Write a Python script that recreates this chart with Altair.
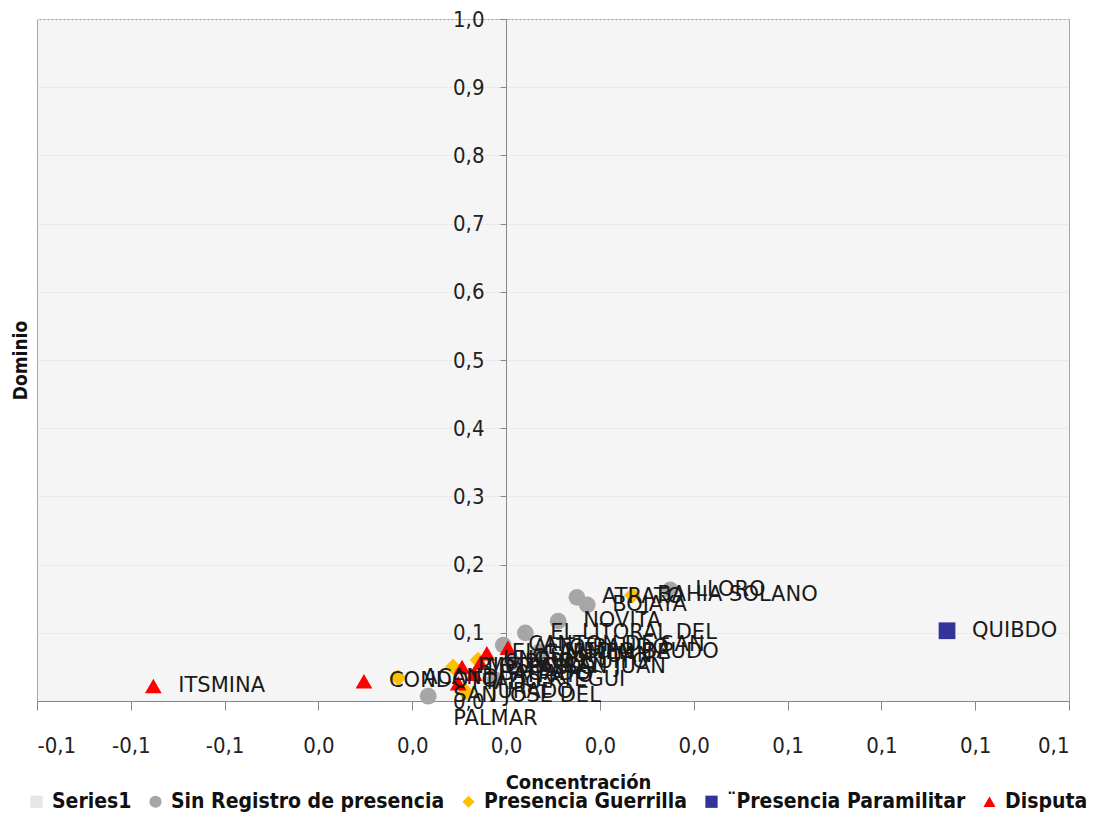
import altair as alt
import pandas as pd

# ---- data ----
series_order = ["Series1", "Sin Registro de presencia", "Presencia Guerrilla",
                "¨Presencia Paramilitar", "Disputa"]
series_colors = ["#e6e6e6", "#a6a6a6", "#ffc000", "#333399", "#ff0000"]
series_shapes = ["square", "circle", "diamond", "square", "triangle-up"]

sin_names = ["LLORO", "ATRATO", "BOJAYA", "NOVITA", "EL LITORAL DEL\nSAN JUAN",
             "CANTON DE SAN\nPABLO", "RIO QUITO", "MEDIO BAUDO", "CERTEGUI",
             "SAN JOSE DEL\nPALMAR"]
sin_x = [0.0350, 0.0151, 0.0173, 0.0111, 0.0041, -0.0006, 0.0013, 0.0072, -0.0023, -0.0166]
sin_y = [0.163, 0.152, 0.141, 0.117, 0.100, 0.082, 0.057, 0.072, 0.031, 0.007]

gue_names = ["BAHIA SOLANO", "JURADO", "ACANDI", "RIOSUCIO", "UNGUIA"]
gue_x = [0.0269, -0.0085, -0.0230, -0.0113, -0.0060]
gue_y = [0.155, 0.013, 0.034, 0.050, 0.060]

par_names = ["QUIBDO"]
par_x = [0.0940]
par_y = [0.103]

dis_names = ["ITSMINA", "CONDOTO", "MEDIO SAN JUAN", "TADO", "SIPI",
             "EL CARMEN DE\nATRATO", "ALTO BAUDO", "BAGADO"]
dis_x = [-0.0752, -0.0303, -0.0094, -0.0102, -0.0055, -0.0041, 0.0004, -0.0068]
dis_y = [0.022, 0.029, 0.050, 0.026, 0.056, 0.070, 0.078, 0.040]

x_ticks = [-0.10, -0.08, -0.06, -0.04, -0.02, 0.0, 0.02, 0.04, 0.06, 0.08, 0.10, 0.12]
x_tick_labels = ["-0,1", "-0,1", "-0,1", "0,0", "0,0", "0,0", "0,0", "0,0",
                 "0,1", "0,1", "0,1", "0,1"]
y_ticks = [0.0, 0.1, 0.2, 0.3, 0.4, 0.5, 0.6, 0.7, 0.8, 0.9, 1.0]
y_tick_labels = ["0,0", "0,1", "0,2", "0,3", "0,4", "0,5", "0,6", "0,7", "0,8", "0,9", "1,0"]

rows = []
for cat, names, xs, ys in [
    ("Sin Registro de presencia", sin_names, sin_x, sin_y),
    ("Presencia Guerrilla", gue_names, gue_x, gue_y),
    ("¨Presencia Paramilitar", par_names, par_x, par_y),
    ("Disputa", dis_names, dis_x, dis_y),
]:
    for n, xv, yv in zip(names, xs, ys):
        rows.append({"serie": cat, "nombre": n, "conc": xv, "dom": yv})
df = pd.DataFrame(rows)

x_label_expr = "[" + ",".join("'%s'" % s for s in x_tick_labels) + "][round(datum.value*50)+5]"
y_label_expr = "[" + ",".join("'%s'" % s for s in y_tick_labels) + "][round(datum.value*10)]"

cond = "DejaVu Sans Condensed, Liberation Sans Narrow, sans-serif"

x_enc = alt.X("conc:Q",
              scale=alt.Scale(domain=[-0.1, 0.12], nice=False, zero=False),
              axis=alt.Axis(values=x_ticks, labelExpr=x_label_expr, title="Concentración",
                            grid=False, domainColor="#868686", tickColor="#868686",
                            tickSize=9, labelPadding=35, labelBaseline="middle",
                            labelFont=cond, labelFontSize=22, labelColor="#222222",
                            titleFont=cond, titleFontSize=20, titleFontWeight="bold",
                            titleColor="#111111", titleX=541, titleY=81,
                            titleBaseline="middle", titleAlign="center"))
y_enc = alt.Y("dom:Q",
              scale=alt.Scale(domain=[0, 1], nice=False),
              axis=alt.Axis(values=y_ticks, labelExpr=y_label_expr, title="Dominio",
                            offset=-469, grid=True, gridColor="#dedede", gridDash=[2, 2],
                            domainColor="#868686", tickColor="#868686", tickSize=6,
                            labelPadding=16, labelFont=cond, labelFontSize=22,
                            labelColor="#222222",
                            titleFont=cond, titleFontSize=19, titleFontWeight="bold",
                            titleColor="#111111", titleX=-486, titleY=341,
                            titleAngle=270, titleAlign="center", titleBaseline="middle"))

legend = alt.Legend(title=None, orient="none", direction="horizontal", columns=5,
                    legendX=-11, legendY=772, labelFont=cond, labelFontSize=21,
                    labelFontWeight="bold", labelColor="#111111", symbolSize=150,
                    symbolStrokeWidth=0, columnPadding=13, labelOffset=5,
                    labelLimit=400, symbolType="circle")

points = alt.Chart(df).mark_point(filled=True, size=280, opacity=1).encode(
    x=x_enc,
    y=y_enc,
    color=alt.Color("serie:N", scale=alt.Scale(domain=series_order, range=series_colors),
                    legend=legend),
    shape=alt.Shape("serie:N", scale=alt.Scale(domain=series_order, range=series_shapes),
                    legend=legend),
)

labels = alt.Chart(df).mark_text(align="left", baseline="middle", dx=25,
                                 font="DejaVu Sans", fontSize=21, color="#1a1a1a",
                                 lineBreak="\n").encode(
    x="conc:Q", y="dom:Q", text="nombre:N")

chart = alt.layer(points, labels).properties(
    width=1032, height=682,
    autosize=alt.AutoSizeParams(type="none"),
    padding={"left": 29, "top": 11, "right": 24, "bottom": 112},
).configure_view(fill="#f5f5f5", stroke="#a6a6a6", strokeWidth=1)

chart.save("out.html", embed_options={"renderer": "svg", "actions": False})
